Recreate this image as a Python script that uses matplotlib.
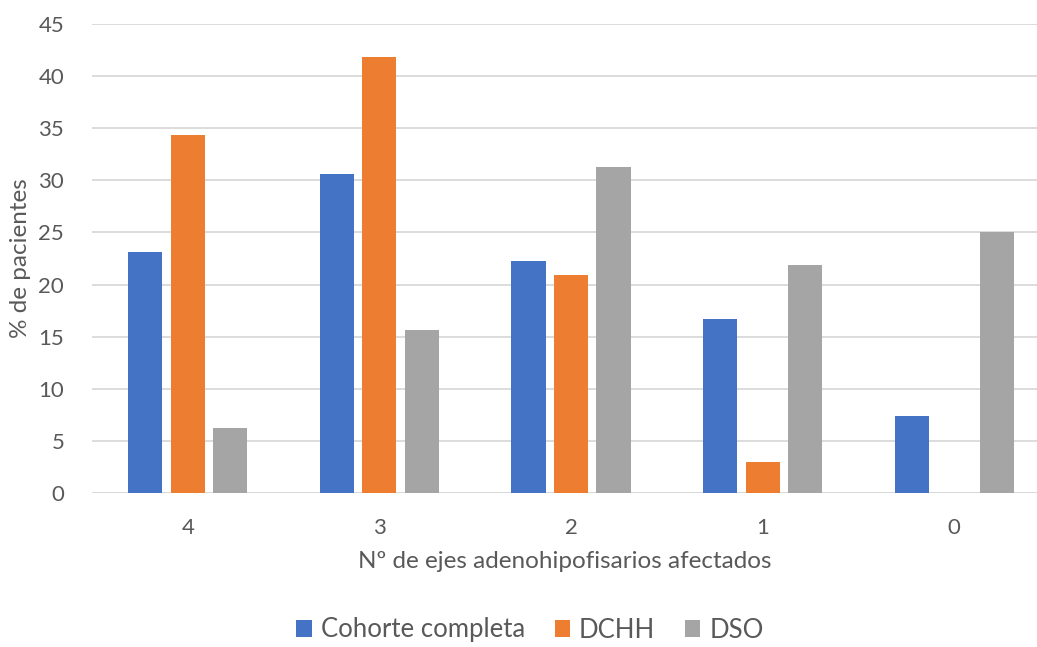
import matplotlib
matplotlib.use("Agg")
import matplotlib.pyplot as plt
import numpy as np

categories = ["4", "3", "2", "1", "0"]
cohorte = [23.15, 30.56, 22.22, 16.67, 7.41]
dchh = [34.33, 41.79, 20.90, 2.99, 0.0]
dso = [6.25, 15.63, 31.25, 21.88, 25.0]
series_names = ["Cohorte completa", "DCHH", "DSO"]
colors = ["#4472C4", "#ED7D31", "#A5A5A5"]

plt.rcParams['font.family'] = ['Lato', 'DejaVu Sans']
W, H = 1037, 647
fig = plt.figure(figsize=(W/100, H/100), dpi=100)
left_px, right_px, top_px, bot_px = 92, 1037, 24, 493
ax = fig.add_axes([left_px/W, 1 - bot_px/H, (right_px-left_px)/W, (bot_px-top_px)/H])

x = np.arange(len(categories))
bw = 0.178
step = 0.222
for i, (vals, name, c) in enumerate(zip([cohorte, dchh, dso], series_names, colors)):
    ax.bar(x + (i-1)*step, vals, width=bw, color=c, label=name, zorder=3)

ax.set_xlim(-0.5, 4.5 - (1050-1037)/191.5)
ax.set_ylim(0, 45)
ax.set_yticks(np.arange(0, 46, 5))
ax.set_xticks(x)
ax.set_xticklabels(categories)
ax.grid(axis='y', color='#D9D9D9', linewidth=1.3, zorder=0)
for s in ['top', 'right', 'left', 'bottom']:
    ax.spines[s].set_visible(False)
ax.axhline(0, color='#D9D9D9', linewidth=1.3, zorder=2)
ax.tick_params(axis='both', length=0, labelsize=16, colors='#595959')
ax.tick_params(axis='x', pad=18)
ax.tick_params(axis='y', pad=20)
ax.set_xlabel("Nº de ejes adenohipofisarios afectados", fontsize=17.5, color='#595959')
ax.xaxis.set_label_coords(0.5, -(562 - bot_px) / (bot_px - top_px), transform=ax.transAxes)
ax.set_ylabel("% de pacientes", fontsize=17.5, color='#595959')
ax.yaxis.set_label_coords((21 - left_px) / (right_px - left_px), 0.5 + (258 - (top_px + bot_px) / 2) * -1 / (bot_px - top_px))
ax.yaxis.label.set_va('center')
ax.xaxis.label.set_va('center')

leg = fig.legend(loc='center', bbox_to_anchor=(530 / W, 1 - 630/H), ncol=3, frameon=False,
                 fontsize=18.5, handlelength=0.6, handleheight=0.6, handletextpad=0.35,
                 columnspacing=1.15, labelcolor='#595959', borderpad=0.1)
fig.savefig("out.png", dpi=100)
